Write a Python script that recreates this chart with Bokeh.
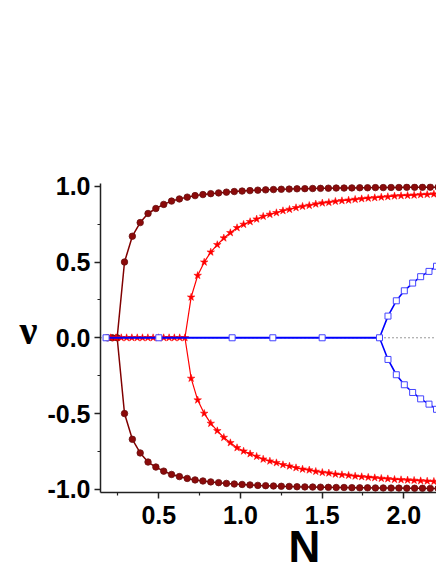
from bokeh.plotting import figure
from bokeh.models import FixedTicker, Span, Title
from bokeh.embed import file_html
from bokeh.resources import INLINE

# ---- data ----
# maroon (spheres): zero branch, then symmetric +/- branches
maroon_zero_N = [0.185, 0.215, 0.245]
maroon_N = [0.290, 0.338, 0.386, 0.434, 0.482, 0.530, 0.578, 0.626, 0.674, 0.722,
            0.770, 0.818, 0.866, 0.914, 0.962, 1.010, 1.058, 1.106, 1.154, 1.202,
            1.250, 1.298, 1.346, 1.394, 1.442, 1.490, 1.538, 1.586, 1.634, 1.682,
            1.730, 1.778, 1.826, 1.874, 1.922, 1.970, 2.018, 2.066, 2.114, 2.162, 2.210]
maroon_nu = [0.500, 0.670, 0.760, 0.820, 0.853, 0.880, 0.902, 0.916, 0.928, 0.938,
             0.945, 0.951, 0.956, 0.961, 0.965, 0.968, 0.971, 0.974, 0.976, 0.978,
             0.980, 0.981, 0.983, 0.984, 0.985, 0.986, 0.987, 0.988, 0.988, 0.989,
             0.990, 0.990, 0.991, 0.991, 0.992, 0.992, 0.993, 0.993, 0.993, 0.994, 0.994]

# red (stars)
red_zero_N = [0.205, 0.238, 0.270, 0.303, 0.335, 0.368, 0.400, 0.433, 0.465, 0.498,
              0.530, 0.563, 0.595, 0.628, 0.660]
red_N = [0.698, 0.738, 0.778, 0.818, 0.858, 0.898, 0.938, 0.979, 1.019, 1.059,
         1.099, 1.139, 1.180, 1.220, 1.260, 1.300, 1.340, 1.380, 1.421, 1.461,
         1.501, 1.541, 1.581, 1.621, 1.662, 1.702, 1.742, 1.782, 1.822, 1.862,
         1.902, 1.943, 1.983, 2.023, 2.063, 2.103, 2.143, 2.184]
red_nu = [0.268, 0.411, 0.499, 0.565, 0.614, 0.658, 0.693, 0.726, 0.748, 0.766,
          0.783, 0.801, 0.814, 0.825, 0.838, 0.847, 0.858, 0.867, 0.873, 0.882,
          0.889, 0.893, 0.900, 0.904, 0.908, 0.913, 0.917, 0.921, 0.924, 0.928,
          0.931, 0.935, 0.937, 0.939, 0.941, 0.944, 0.946, 0.948]

# blue (open squares)
blue_zero_N = [0.177, 0.500, 0.949, 1.198, 1.500, 1.851]
blue_N = [1.903, 1.954, 2.003, 2.054, 2.103, 2.154, 2.200]
blue_nu = [0.143, 0.244, 0.310, 0.361, 0.403, 0.438, 0.472]

x_ticks = [0.5, 1.0, 1.5, 2.0]
x_tick_labels = ["0.5", "1.0", "1.5", "2.0"]
x_minor = [0.25, 0.75, 1.25, 1.75, 2.25]
y_ticks = [-1.0, -0.5, 0.0, 0.5, 1.0]
y_tick_labels = ["-1.0", "-0.5", "0.0", "0.5", "1.0"]
y_minor = [-0.75, -0.25, 0.25, 0.75]

x_title = "N"
y_title = "\u03bd"

# ---- figure ----
p = figure(width=436, height=564, x_range=(0.143, 2.2), y_range=(-1.021, 1.018),
           min_border_left=100, min_border_right=0, min_border_top=183,
           min_border_bottom=72, output_backend="svg", toolbar_location=None)
p.outline_line_color = None
p.grid.visible = False
p.background_fill_color = "white"
p.border_fill_color = "white"

for ax in (p.xaxis[0], p.yaxis[0]):
    ax.axis_line_color = "#222222"
    ax.axis_line_width = 1.5
    ax.major_tick_line_color = "#222222"
    ax.major_tick_line_width = 1.5
    ax.minor_tick_line_color = "#222222"
    ax.minor_tick_line_width = 1.2
    ax.major_tick_out = 6
    ax.major_tick_in = 0
    ax.minor_tick_out = 3
    ax.minor_tick_in = 0
    ax.major_label_text_font = "Liberation Sans"
    ax.major_label_text_font_style = "bold"
    ax.major_label_text_font_size = "25px"
    ax.major_label_text_color = "black"

p.xaxis.major_label_standoff = 2
p.yaxis.major_label_standoff = 4

p.xaxis.ticker = FixedTicker(ticks=x_ticks, minor_ticks=x_minor)
p.yaxis.ticker = FixedTicker(ticks=y_ticks, minor_ticks=y_minor)
# trailing empty line reserves room under the tick labels for the N title
p.xaxis.major_label_overrides = {t: s + "\n" for t, s in zip(x_ticks, x_tick_labels)}
p.xaxis.major_label_text_line_height = 0.45
p.yaxis.major_label_overrides = dict(zip(y_ticks, y_tick_labels))

# y title: horizontal nu (trailing empty line lifts it slightly)
p.yaxis.axis_label = y_title + "\n"
p.yaxis.axis_label_orientation = "horizontal"
p.yaxis.axis_label_text_font = "Liberation Serif"
p.yaxis.axis_label_text_font_style = "bold"
p.yaxis.axis_label_text_font_size = "40px"
p.yaxis.axis_label_text_line_height = 0.35
p.yaxis.axis_label_text_color = "black"
p.yaxis.axis_label_standoff = 7

# x title: N, placed under the 1.4 region as in the reference
p.add_layout(Title(text=x_title, align="left", offset=188, vertical_align="top",
                   standoff=-46, text_font="Liberation Sans", text_font_style="bold",
                   text_font_size="44px", text_color="black"), "below")

# dotted zero reference line
p.add_layout(Span(location=0, dimension="width", line_color="#333333",
                  line_width=1, line_dash="1 3", level="underlay"))

MAROON = "#800000"
RED = "#ff0000"
BLUE = "#0000ff"

def branches(zero_N, N, nu):
    bif = zero_N[-1]
    up_x = [bif] + N
    up_y = [0.0] + nu
    lo_y = [0.0] + [-v for v in nu]
    return up_x, up_y, lo_y

# maroon
mx, mu, ml = branches(maroon_zero_N, maroon_N, maroon_nu)
p.line(maroon_zero_N, [0.0] * len(maroon_zero_N), line_color=MAROON, line_width=1.5)
p.line(mx, mu, line_color=MAROON, line_width=1.5)
p.line(mx, ml, line_color=MAROON, line_width=1.5)
p.scatter(maroon_zero_N + maroon_N + maroon_N,
          [0.0] * len(maroon_zero_N) + maroon_nu + [-v for v in maroon_nu],
          marker="circle", size=6.5, fill_color="#8b0a0a", line_color="#6a1010",
          line_width=0.8)

# red
rx, ru, rl = branches(red_zero_N, red_N, red_nu)
p.line(red_zero_N, [0.0] * len(red_zero_N), line_color=RED, line_width=1.2)
p.line(rx, ru, line_color=RED, line_width=1.2)
p.line(rx, rl, line_color=RED, line_width=1.2)
p.scatter(red_zero_N + red_N + red_N,
          [0.0] * len(red_zero_N) + red_nu + [-v for v in red_nu],
          marker="star", size=8, fill_color=RED, line_color=RED, line_width=0.5)

# blue
bx, bu, bl = branches(blue_zero_N, blue_N, blue_nu)
p.line(blue_zero_N, [0.0] * len(blue_zero_N), line_color=BLUE, line_width=2)
p.line(bx, bu, line_color=BLUE, line_width=1.6)
p.line(bx, bl, line_color=BLUE, line_width=1.6)
p.scatter(blue_zero_N + blue_N + blue_N,
          [0.0] * len(blue_zero_N) + blue_nu + [-v for v in blue_nu],
          marker="square", size=6, fill_color="white", line_color="#4444ff",
          line_width=1)

open("out.html", "w").write(file_html(p, INLINE))
